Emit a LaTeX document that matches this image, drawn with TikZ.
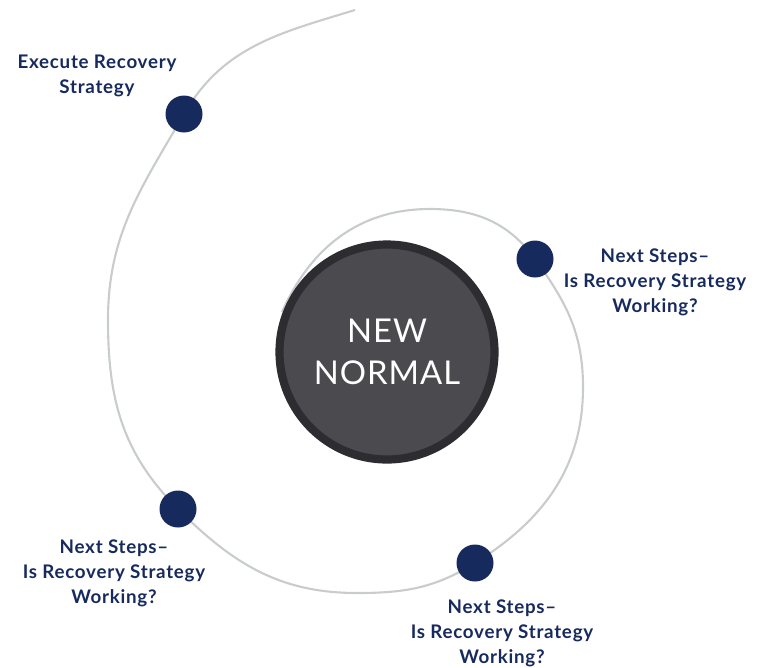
\documentclass[tikz,border=0pt]{standalone}
\usepackage{fontspec}
\setmainfont{Lato}
\newfontfamily\labelfont[LetterSpace=4]{Lato}
\newfontfamily\corefont[LetterSpace=3]{Lato}
\usepackage{xcolor}
\usetikzlibrary{positioning}

\definecolor{navy}{HTML}{172A5E}
\definecolor{track}{HTML}{C9CCCC}
\definecolor{core}{HTML}{4B4A4F}
\definecolor{rim}{HTML}{2D2C31}

\tikzset{
  dot/.style = {circle, fill = navy, minimum size = 1.11cm, inner sep = 0pt},
  step label/.style = {align = center, text = navy,
                       font = \labelfont\bfseries\fontsize{16}{21.3}\selectfont},
  core/.style = {circle, fill = core, draw = rim, line width = 7pt, minimum size = 6.45cm,
                 align = center, text = white, font = \corefont\fontsize{28}{35.7}\selectfont}
}

\begin{document}
\begin{tikzpicture}[x = 0.03cm, y = 0.03cm]

\useasboundingbox (0,0) rectangle (763,-667);

% points of the spiral
\coordinate (S0) at (355,-10);
\coordinate (S1) at (184,-114);
\coordinate (S2) at (108,-320);
\coordinate (S3) at (178,-509);
\coordinate (S4) at (357,-593);
\coordinate (S5) at (475,-563);
\coordinate (S6) at (583,-387);
\coordinate (S7) at (535,-259);
\coordinate (S8) at (430,-209);
\coordinate (S9) at (282,-312);

\draw [track, line width = 1.8pt]
  (S0) to [out = 197, in = 60] (S1)
       to [out = 240, in = 90] (S2)
       to [out = 270, in = 135] (S3)
       to [out = 315, in = 180] (S4)
       to [out = 0, in = 212] (S5)
       to [out = 32, in = 270] (S6)
       to [out = 90, in = 306] (S7)
       to [out = 126, in = 0] (S8)
       to [out = 180, in = 66] (S9);

\node (N) [core] at (387,-352) {NEW\\NORMAL};

\node (D1) [dot] at (S1) {};
\node (D2) [dot] at (S7) {};
\node (D3) [dot] at (S3) {};
\node (D4) [dot] at (S5) {};

\node (L1) [step label] at (97,-76) {Execute Recovery\\Strategy};
\node (L2) [step label, right of = D2, xshift = 2.6cm, yshift = -0.69cm]
  {Next Steps\textendash\\Is Recovery Strategy\\Working?};
\node (L3) [step label, below of = D3, xshift = -1.92cm, yshift = -0.94cm]
  {Next Steps\textendash\\Is Recovery Strategy\\Working?};
\node (L4) [step label, below of = D4, xshift = 0.81cm, yshift = -1.12cm]
  {Next Steps\textendash\\Is Recovery Strategy\\Working?};

\end{tikzpicture}
\end{document}
